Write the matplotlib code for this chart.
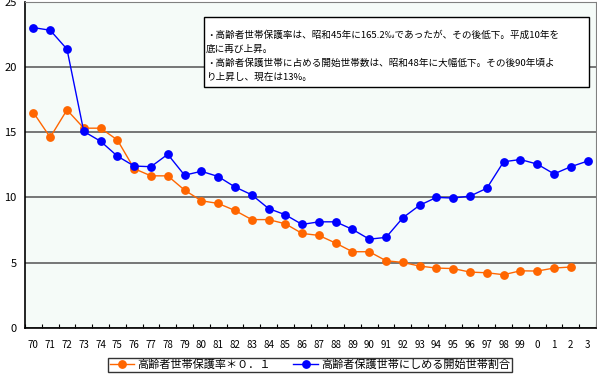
import matplotlib.pyplot as plt
from matplotlib.patches import Rectangle
import numpy as np

plt.rcParams['font.family'] = ['Noto Sans CJK JP', 'DejaVu Sans']

years = ['70', '71', '72', '73', '74', '75', '76', '77', '78', '79',
         '80', '81', '82', '83', '84', '85', '86', '87', '88', '89',
         '90', '91', '92', '93', '94', '95', '96', '97', '98', '99',
         '0', '1', '2', '3']

# 高齢者世帯保護率 * 0.1 (no value for 03)
rate = [16.5, 14.6, 16.7, 15.3, 15.3, 14.4, 12.2, 11.65, 11.65, 10.56,
        9.74, 9.54, 9.0, 8.3, 8.3, 7.98, 7.24, 7.09, 6.5, 5.84,
        5.84, 5.15, 5.02, 4.74, 4.59, 4.55, 4.28, 4.23, 4.08, 4.38,
        4.36, 4.59, 4.67, np.nan]

# 高齢者保護世帯にしめる開始世帯割合
share = [23.0, 22.8, 21.35, 15.05, 14.3, 13.16, 12.4, 12.35, 13.3, 11.7,
         12.0, 11.6, 10.8, 10.2, 9.15, 8.67, 7.93, 8.13, 8.13, 7.55,
         6.8, 6.94, 8.44, 9.4, 10.0, 9.95, 10.1, 10.7, 12.73, 12.9,
         12.55, 11.8, 12.35, 12.78]

note = ('・高齢者世帯保護率は、昭和45年に165.2‰であったが、その後低下。平成10年を\n'
        '底に再び上昇。\n'
        '・高齢者保護世帯に占める開始世帯数は、昭和48年に大幅低下。その後90年頃よ\n'
        'り上昇し、現在は13%。')

fig = plt.figure(figsize=(5.97, 3.75), dpi=100, facecolor='white')
ax = fig.add_axes([25 / 597, 1 - 328 / 375, 571 / 597, 326.5 / 375])
ax.set_facecolor('#F5FBF8')

x = np.arange(len(years)) + 0.5
ax.plot(x, rate, marker='o', color='#FF6600', markersize=5.3, linewidth=1,
        label='高齢者世帯保護率＊０．１', zorder=3)
ax.plot(x, share, marker='o', color='#0000FF', markersize=5.3, linewidth=1,
        label='高齢者保護世帯にしめる開始世帯割合', zorder=4)

ax.set_xlim(0, len(years))
ax.set_ylim(0, 25)
ax.set_yticks([0, 5, 10, 15, 20, 25])
ax.yaxis.grid(True, color='#606060', linewidth=1.2)
ax.set_axisbelow(True)
ax.tick_params(axis='y', length=0, labelsize=8, pad=6)

ax.set_xticks(np.arange(len(years) + 1))
ax.set_xticklabels([])
ax.set_xticks(x, minor=True)
ax.set_xticklabels(years, minor=True, fontsize=7)
ax.tick_params(axis='x', which='major', direction='in', length=3, color='black')
ax.tick_params(axis='x', which='minor', length=0, pad=9)

for side in ['top', 'right']:
    ax.spines[side].set_color('#808080')
for side in ['left', 'bottom']:
    ax.spines[side].set_color('black')
    ax.spines[side].set_linewidth(1.2)

# note box
fig.patches.append(Rectangle((204 / 597, 1 - 87 / 375), 385 / 597, 70 / 375,
                             transform=fig.transFigure, facecolor='white',
                             edgecolor='black', linewidth=1, zorder=5))
fig.text(206 / 597, 1 - 30 / 375, note, fontsize=6.9, va='top', ha='left',
         linespacing=1.65, zorder=6)

leg = fig.legend(loc='center', bbox_to_anchor=(310 / 597, 1 - 365 / 375), ncol=2,
                 fontsize=8, frameon=True, fancybox=False, edgecolor='black',
                 borderpad=0.15, handlelength=2.2, columnspacing=2.0, handletextpad=0.3,
                 borderaxespad=0)
leg.get_frame().set_linewidth(1)

fig.savefig('out.png', dpi=100, facecolor='white')
